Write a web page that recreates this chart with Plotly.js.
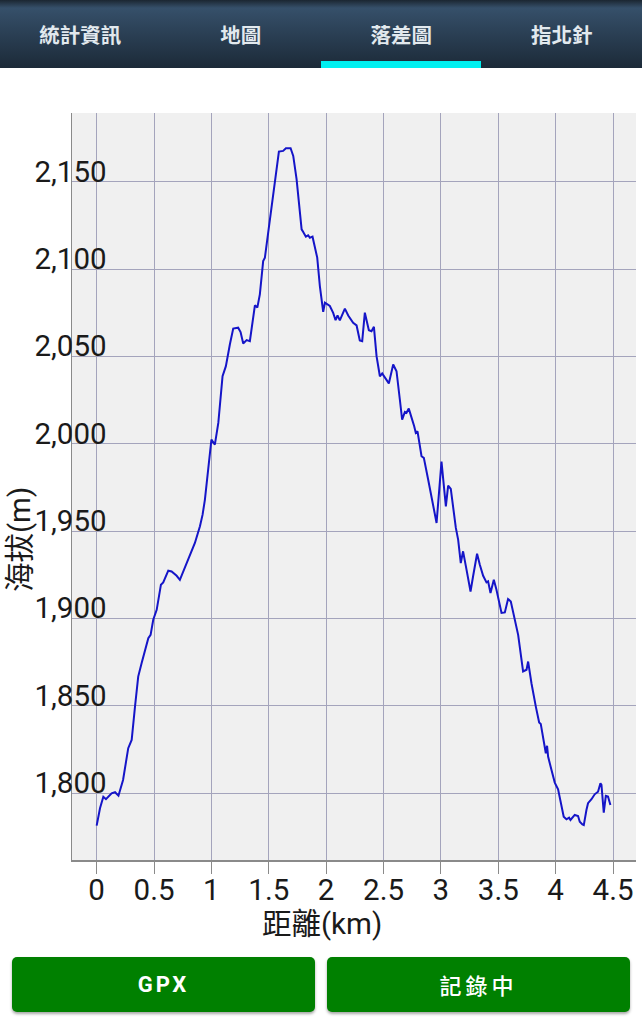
<!DOCTYPE html>
<html>
<head>
<meta charset="utf-8">
<script src="https://cdn.plot.ly/plotly-3.0.1.min.js"></script>
<style>
  html, body { margin:0; padding:0; background:#ffffff; }
  body { width:642px; height:1024px; position:relative; overflow:hidden;
         font-family: Roboto, "Noto Sans CJK TC", sans-serif; }
  #tabs { position:absolute; left:0; top:0; width:642px; height:68px;
          background: linear-gradient(to bottom, #1b2631 0px, #36506a 8px, #2d4359 28px, #1c2a38 68px); }
  .tab { position:absolute; top:0; height:68px; width:160.5px; line-height:68px; text-align:center;
         color:#e2e9ee; font-size:20.5px; font-weight:bold; font-family:"Noto Sans CJK TC", sans-serif; }
  #ind { position:absolute; left:321px; top:61px; width:160px; height:7px; background:#00f0f0; }
  #chart { position:absolute; left:0; top:68px; width:642px; height:877px; }
  .btn { position:absolute; top:957px; height:55px; width:303px; background:#008000; border-radius:5px;
         box-shadow:0 2px 3px rgba(0,0,0,0.35); color:#fff; text-align:center; line-height:55px;
         font-weight:bold; }
</style>
</head>
<body>
<div id="tabs">
  <div class="tab" style="left:0">統計資訊</div>
  <div class="tab" style="left:160.5px">地圖</div>
  <div class="tab" style="left:321px">落差圖</div>
  <div class="tab" style="left:481.5px">指北針</div>
  <div id="ind"></div>
</div>
<div id="chart"></div>
<div class="btn" style="left:12px; font-size:22px; letter-spacing:3px; font-family:Roboto, sans-serif;">GPX</div>
<div class="btn" style="left:327px; font-size:22px; letter-spacing:4px; font-family:'Noto Sans CJK TC', sans-serif; font-weight:500;">記錄中</div>
<script>
const distanceKm = [0, 0.029, 0.058, 0.081, 0.13, 0.16, 0.19, 0.23, 0.275, 0.305, 0.334, 0.362, 0.392, 0.42, 0.45, 0.47, 0.493, 0.523, 0.56, 0.58, 0.624, 0.653, 0.697, 0.725, 0.784, 0.827, 0.856, 0.9, 0.923, 0.943, 0.972, 1.0, 1.03, 1.06, 1.097, 1.126, 1.161, 1.19, 1.233, 1.254, 1.277, 1.307, 1.335, 1.379, 1.4, 1.422, 1.451, 1.466, 1.495, 1.524, 1.553, 1.588, 1.625, 1.649, 1.69, 1.713, 1.742, 1.765, 1.786, 1.8, 1.823, 1.843, 1.858, 1.881, 1.902, 1.922, 1.945, 1.974, 1.989, 2.032, 2.061, 2.082, 2.099, 2.119, 2.163, 2.192, 2.235, 2.265, 2.293, 2.314, 2.337, 2.372, 2.395, 2.416, 2.439, 2.468, 2.488, 2.511, 2.546, 2.584, 2.613, 2.642, 2.662, 2.686, 2.7, 2.72, 2.744, 2.767, 2.781, 2.796, 2.831, 2.851, 2.889, 2.947, 2.962, 3.005, 3.043, 3.063, 3.086, 3.13, 3.15, 3.173, 3.193, 3.223, 3.258, 3.28, 3.315, 3.339, 3.368, 3.397, 3.411, 3.432, 3.461, 3.484, 3.528, 3.557, 3.585, 3.609, 3.644, 3.673, 3.716, 3.746, 3.76, 3.789, 3.827, 3.856, 3.87, 3.905, 3.914, 3.925, 3.934, 3.963, 3.992, 4.021, 4.05, 4.07, 4.094, 4.117, 4.129, 4.146, 4.166, 4.195, 4.21, 4.233, 4.245, 4.268, 4.282, 4.312, 4.34, 4.369, 4.39, 4.399, 4.419, 4.437, 4.456, 4.477];
const elevationM = [1781.5, 1791.4, 1798, 1796.6, 1800, 1800.6, 1798.6, 1807.6, 1825.8, 1830.5, 1849.6, 1866.8, 1874.5, 1881, 1888.8, 1890.7, 1899.3, 1905, 1919.4, 1920.7, 1927.4, 1927, 1924.5, 1922.2, 1931.8, 1938.5, 1943.3, 1952.8, 1959.5, 1968, 1986.2, 2002.5, 1999.6, 2012, 2038.7, 2044.5, 2057, 2066, 2066.5, 2064, 2057.5, 2059.4, 2058.8, 2079.3, 2078, 2085.6, 2104.6, 2106.6, 2121, 2136.2, 2150.5, 2167.3, 2167.7, 2169.2, 2169.2, 2164.8, 2151.5, 2136.2, 2122.8, 2121.3, 2118.6, 2119.4, 2118, 2118.6, 2113.2, 2106.6, 2090.3, 2075.6, 2080.8, 2078.9, 2075, 2070.8, 2073.5, 2070.7, 2077.4, 2073.5, 2069.3, 2067.8, 2059.2, 2058.8, 2075.1, 2065.1, 2064.5, 2067, 2050.2, 2038.7, 2040.3, 2037.8, 2034.6, 2045.4, 2041.6, 2025.4, 2013.9, 2018.3, 2017.8, 2020.2, 2015.5, 2010.1, 2006.3, 2007.2, 1992.9, 1992, 1979.5, 1960.5, 1954.7, 1989.8, 1964.2, 1976.1, 1974.2, 1951.9, 1945.2, 1931.8, 1938.5, 1928, 1915.5, 1924.1, 1937.1, 1930.8, 1924.5, 1920.7, 1921.3, 1914.6, 1922.2, 1916.5, 1903.2, 1903.5, 1911.2, 1909.8, 1900.3, 1890.7, 1869.7, 1870.7, 1875.4, 1863, 1849.6, 1840.5, 1839.7, 1824.8, 1822.9, 1827.2, 1821, 1813.4, 1806.1, 1802.3, 1792.3, 1786.6, 1785.1, 1786, 1784.7, 1786.2, 1787.6, 1787, 1783.7, 1782.2, 1781.8, 1790.4, 1794.3, 1796.6, 1799.4, 1800.9, 1805.7, 1804.8, 1788.9, 1798.5, 1798.1, 1793.3];
const xTickVals = [0, 0.5, 1, 1.5, 2, 2.5, 3, 3.5, 4, 4.5];
const xTickText = ["0", "0.5", "1", "1.5", "2", "2.5", "3", "3.5", "4", "4.5"];
const yTickVals = [1800, 1850, 1900, 1950, 2000, 2050, 2100, 2150];
const xTitle = "距離(km)";
const yTitle = "海拔(m)";

const fontFam = "Roboto, 'Noto Sans CJK TC', sans-serif";
const txtFont = { size: 29.5, family: fontFam, color: "#1a1a1a" };
const trace = {
  x: distanceKm, y: elevationM, type: "scatter", mode: "lines",
  line: { color: "#1515c8", width: 2 }, hoverinfo: "skip"
};
const layout = {
  width: 642, height: 877,
  margin: { l: 72, r: 6, t: 45, b: 85, pad: 0 },
  paper_bgcolor: "#ffffff", plot_bgcolor: "#f0f0f0",
  showlegend: false,
  font: txtFont,
  xaxis: {
    range: [-0.215, 4.70], tickvals: xTickVals, ticktext: xTickText,
    ticks: "outside", ticklen: 12, tickwidth: 1, tickcolor: "#8a8a8a",
    ticklabelstandoff: -9,
    showgrid: true, gridcolor: "#a4a4bc", gridwidth: 1, zeroline: false,
    showline: true, linecolor: "#8a8a8a", linewidth: 1.5,
    tickfont: txtFont,
    automargin: false, fixedrange: true
  },
  yaxis: {
    range: [1761.8, 2189.4], tickvals: yTickVals, tickformat: ",d",
    ticks: "", showgrid: true, gridcolor: "#a4a4bc", gridwidth: 1, zeroline: false,
    showline: true, linecolor: "#8a8a8a", linewidth: 1.5,
    ticklabelposition: "outside top", ticklabelstandoff: -42, ticklabelshift: 10,
    tickfont: txtFont,
    automargin: false, fixedrange: true
  },
  annotations: [
    { text: xTitle, xref: "paper", yref: "paper", x: (322 - 72) / 564, y: -64 / 747,
      xanchor: "center", yanchor: "middle", showarrow: false, font: txtFont },
    { text: yTitle, xref: "paper", yref: "paper", x: (20 - 72) / 564, y: (860 - 540) / 747,
      xanchor: "center", yanchor: "middle", textangle: -90, showarrow: false, font: txtFont }
  ]
};
Plotly.newPlot("chart", [trace], layout, { displayModeBar: false, staticPlot: true });
</script>
</body>
</html>
